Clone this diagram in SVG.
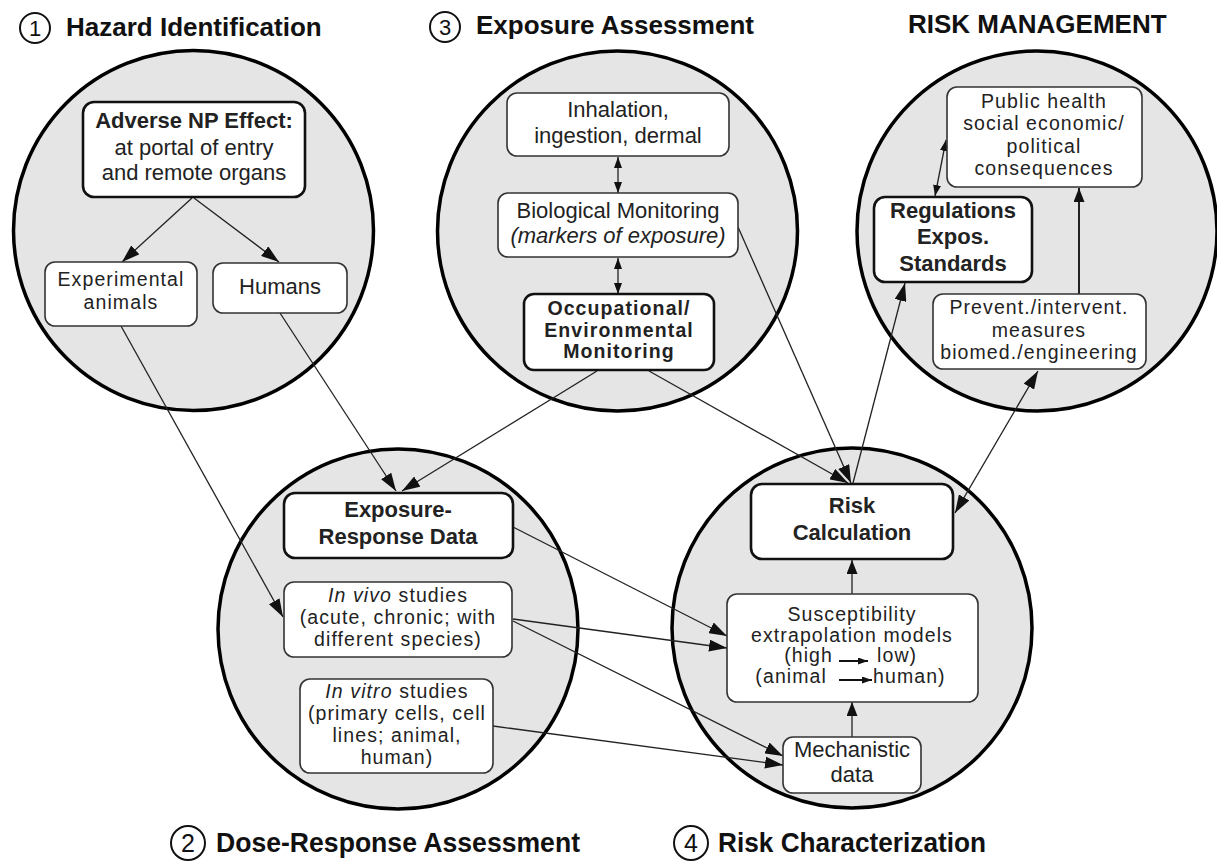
<svg xmlns="http://www.w3.org/2000/svg" width="1217" height="862" viewBox="0 0 1217 862">
<style>
.bg{fill:#ffffff}
.zone{fill:#e5e5e5;stroke:#000;stroke-width:3.5}
.box{fill:#fff;stroke:#333;stroke-width:1.6}
.boxb{fill:#fff;stroke:#111;stroke-width:2.6}
.t{font-family:"Liberation Sans",Arial,Helvetica,sans-serif;font-size:22px;fill:#222;text-anchor:middle}
.tb{font-family:"Liberation Sans",Arial,Helvetica,sans-serif;font-size:22px;font-weight:bold;fill:#222;text-anchor:middle}
.tt{font-size:19.5px;letter-spacing:1.1px}
.title{font-family:"Liberation Sans",Arial,Helvetica,sans-serif;font-size:26px;font-weight:bold;fill:#111}
.num{font-family:"Liberation Sans",Arial,Helvetica,sans-serif;font-size:22px;fill:#111;text-anchor:middle}
.numc{fill:none;stroke:#111;stroke-width:2}
.c{fill:none;stroke:#222;stroke-width:1.3}
.c2{fill:none;stroke:#222;stroke-width:2}
.it{font-style:italic}
</style>
<defs>
<marker id="aL" viewBox="0 0 18 12" markerWidth="18" markerHeight="12" refX="18" refY="6" orient="auto-start-reverse" markerUnits="userSpaceOnUse"><path d="M0,0 L18,6 L0,12 z" fill="#111"/></marker>
<marker id="aM" viewBox="0 0 14 11" markerWidth="14" markerHeight="11" refX="14" refY="5.5" orient="auto-start-reverse" markerUnits="userSpaceOnUse"><path d="M0,0 L14,5.5 L0,11 z" fill="#111"/></marker>
<marker id="aS" viewBox="0 0 11 8" markerWidth="11" markerHeight="8" refX="11" refY="4" orient="auto-start-reverse" markerUnits="userSpaceOnUse"><path d="M0,0 L11,4 L0,8 z" fill="#111"/></marker>
<marker id="aT" viewBox="0 0 10 7" markerWidth="10" markerHeight="7" refX="10" refY="3.5" orient="auto" markerUnits="userSpaceOnUse"><path d="M0,0 L10,3.5 L0,7 z" fill="#111"/></marker>
</defs>
<rect class="bg" x="0" y="0" width="1217" height="862"/>

<!-- titles -->
<g id="title-hazard">
<circle class="numc" cx="35" cy="28" r="15"/>
<text class="num" x="35" y="36">1</text>
<text class="title" x="66" y="36">Hazard Identification</text>
</g>
<g id="title-exposure">
<circle class="numc" cx="445" cy="27" r="15"/>
<text class="num" x="445" y="35">3</text>
<text class="title" x="476" y="34">Exposure Assessment</text>
</g>
<g id="title-risk-management">
<text class="title" x="908" y="33">RISK MANAGEMENT</text>
</g>
<g id="title-dose">
<circle class="numc" cx="188" cy="843" r="17"/>
<text class="num" x="188" y="852" style="font-size:25px">2</text>
<text class="title" x="216" y="852" style="font-size:28px" textLength="364" lengthAdjust="spacingAndGlyphs">Dose-Response Assessment</text>
</g>
<g id="title-riskchar">
<circle class="numc" cx="691" cy="843" r="17"/>
<text class="num" x="691" y="852" style="font-size:25px">4</text>
<text class="title" x="718" y="852" style="font-size:28px" textLength="268" lengthAdjust="spacingAndGlyphs">Risk Characterization</text>
</g>

<!-- zones -->
<g id="zone-hazard"><circle class="zone" cx="193.5" cy="230.5" r="180"/></g>
<g id="zone-exposure"><circle class="zone" cx="617.5" cy="231" r="180"/></g>
<g id="zone-management"><circle class="zone" cx="1037" cy="231" r="180"/></g>
<g id="zone-dose"><circle class="zone" cx="398" cy="629" r="180"/></g>
<g id="zone-riskchar"><circle class="zone" cx="852" cy="628" r="180"/></g>

<!-- connectors -->
<g id="connectors">
<line class="c" x1="192" y1="198" x2="122" y2="262" marker-end="url(#aL)"/>
<line class="c" x1="194" y1="198" x2="279" y2="262" marker-end="url(#aL)"/>
<line class="c" x1="121" y1="326" x2="283" y2="617" marker-end="url(#aL)"/>
<line class="c" x1="280" y1="313" x2="396" y2="491" marker-end="url(#aL)"/>
<line class="c" x1="597" y1="371" x2="402" y2="491" marker-end="url(#aL)"/>
<line class="c" x1="649" y1="371" x2="848" y2="483" marker-end="url(#aL)"/>
<line class="c" x1="738" y1="227" x2="851" y2="483" marker-end="url(#aL)"/>
<line class="c" x1="853" y1="483" x2="905" y2="283" marker-end="url(#aL)"/>
<line class="c" x1="955" y1="513" x2="1038" y2="371" marker-start="url(#aL)" marker-end="url(#aL)"/>
<line class="c" x1="618" y1="157" x2="618" y2="193" marker-start="url(#aS)" marker-end="url(#aS)"/>
<line class="c" x1="618" y1="258" x2="618" y2="294" marker-start="url(#aS)" marker-end="url(#aS)"/>
<line class="c" x1="935" y1="196" x2="946" y2="140" marker-start="url(#aS)" marker-end="url(#aS)"/>
<line class="c2" x1="1079" y1="294" x2="1079" y2="188" marker-end="url(#aM)"/>
<line class="c" x1="513" y1="527" x2="727" y2="636" marker-end="url(#aL)"/>
<line class="c" x1="513" y1="619" x2="727" y2="648" marker-end="url(#aL)"/>
<line class="c" x1="513" y1="621" x2="783" y2="756" marker-end="url(#aL)"/>
<line class="c" x1="493" y1="726" x2="783" y2="765" marker-end="url(#aL)"/>
<line class="c" x1="852" y1="737" x2="852" y2="702" marker-end="url(#aM)"/>
<line class="c" x1="852" y1="594" x2="852" y2="560" marker-end="url(#aM)"/>
</g>

<!-- nodes -->
<g id="node-adverse">
<rect class="boxb" x="83" y="102" width="222" height="95" rx="11"/>
<text class="tb" x="194" y="128">Adverse NP Effect:</text>
<text class="t" x="194" y="155">at portal of entry</text>
<text class="t" x="194" y="180">and remote organs</text>
</g>
<g id="node-experimental">
<rect class="box" x="45" y="262" width="152" height="64" rx="10"/>
<text class="t tt" x="121" y="286">Experimental</text>
<text class="t tt" x="121" y="309">animals</text>
</g>
<g id="node-humans">
<rect class="box" x="213" y="263" width="134" height="50" rx="10"/>
<text class="t" x="280" y="294">Humans</text>
</g>
<g id="node-inhalation">
<rect class="box" x="507" y="93" width="222" height="63" rx="10"/>
<text class="t" x="618" y="117">Inhalation,</text>
<text class="t" x="618" y="143">ingestion, dermal</text>
</g>
<g id="node-biological">
<rect class="box" x="498" y="193" width="240" height="64" rx="10"/>
<text class="t" x="618" y="218">Biological Monitoring</text>
<text class="t it" x="618" y="243">(markers of exposure)</text>
</g>
<g id="node-occupational">
<rect class="boxb" x="524" y="294" width="190" height="76" rx="10"/>
<text class="tb tt" x="619" y="315">Occupational/</text>
<text class="tb tt" x="619" y="337">Environmental</text>
<text class="tb tt" x="619" y="358">Monitoring</text>
</g>
<g id="node-public">
<rect class="box" x="947" y="87" width="195" height="100" rx="10"/>
<text class="t tt" x="1044" y="108">Public health</text>
<text class="t tt" x="1044" y="130">social economic/</text>
<text class="t tt" x="1044" y="153">political</text>
<text class="t tt" x="1044" y="175">consequences</text>
</g>
<g id="node-regulations">
<rect class="boxb" x="874" y="197" width="158" height="85" rx="11"/>
<text class="tb" x="953" y="218">Regulations</text>
<text class="tb" x="953" y="244">Expos.</text>
<text class="tb" x="953" y="271">Standards</text>
</g>
<g id="node-prevent">
<rect class="box" x="933" y="294" width="213" height="75" rx="10"/>
<text class="t tt" x="1039" y="314">Prevent./intervent.</text>
<text class="t tt" x="1039" y="337">measures</text>
<text class="t tt" x="1039" y="359">biomed./engineering</text>
</g>
<g id="node-exposure-response">
<rect class="boxb" x="284" y="493" width="229" height="65" rx="11"/>
<text class="tb" x="398" y="517">Exposure-</text>
<text class="tb" x="398" y="544">Response Data</text>
</g>
<g id="node-invivo">
<rect class="box" x="284" y="582" width="228" height="75" rx="10"/>
<text class="t tt" x="398" y="602"><tspan class="it">In vivo</tspan> studies</text>
<text class="t tt" x="398" y="624">(acute, chronic; with</text>
<text class="t tt" x="398" y="646">different species)</text>
</g>
<g id="node-invitro">
<rect class="box" x="300" y="679" width="193" height="94" rx="10"/>
<text class="t tt" x="397" y="698"><tspan class="it">In vitro</tspan> studies</text>
<text class="t tt" x="397" y="720">(primary cells, cell</text>
<text class="t tt" x="397" y="742">lines; animal,</text>
<text class="t tt" x="397" y="764">human)</text>
</g>
<g id="node-riskcalc">
<rect class="boxb" x="751" y="484" width="202" height="75" rx="11"/>
<text class="tb" x="852" y="513">Risk</text>
<text class="tb" x="852" y="540">Calculation</text>
</g>
<g id="node-susceptibility">
<rect class="box" x="727" y="594" width="251" height="108" rx="10"/>
<text class="t tt" x="852" y="621">Susceptibility</text>
<text class="t tt" x="852" y="642">extrapolation models</text>
<text class="t tt" x="833" y="662" style="text-anchor:end">(high</text>
<line x1="839" y1="661" x2="868" y2="661" stroke="#111" stroke-width="2" marker-end="url(#aT)"/>
<text class="t tt" x="877" y="662" style="text-anchor:start">low)</text>
<text class="t tt" x="827" y="683" style="text-anchor:end">(animal</text>
<line x1="839" y1="680" x2="872" y2="680" stroke="#111" stroke-width="2" marker-end="url(#aT)"/>
<text class="t tt" x="873" y="683" style="text-anchor:start">human)</text>
</g>
<g id="node-mechanistic">
<rect class="box" x="783" y="737" width="138" height="56" rx="10"/>
<text class="t" x="852" y="757">Mechanistic</text>
<text class="t" x="852" y="782">data</text>
</g>
</svg>
